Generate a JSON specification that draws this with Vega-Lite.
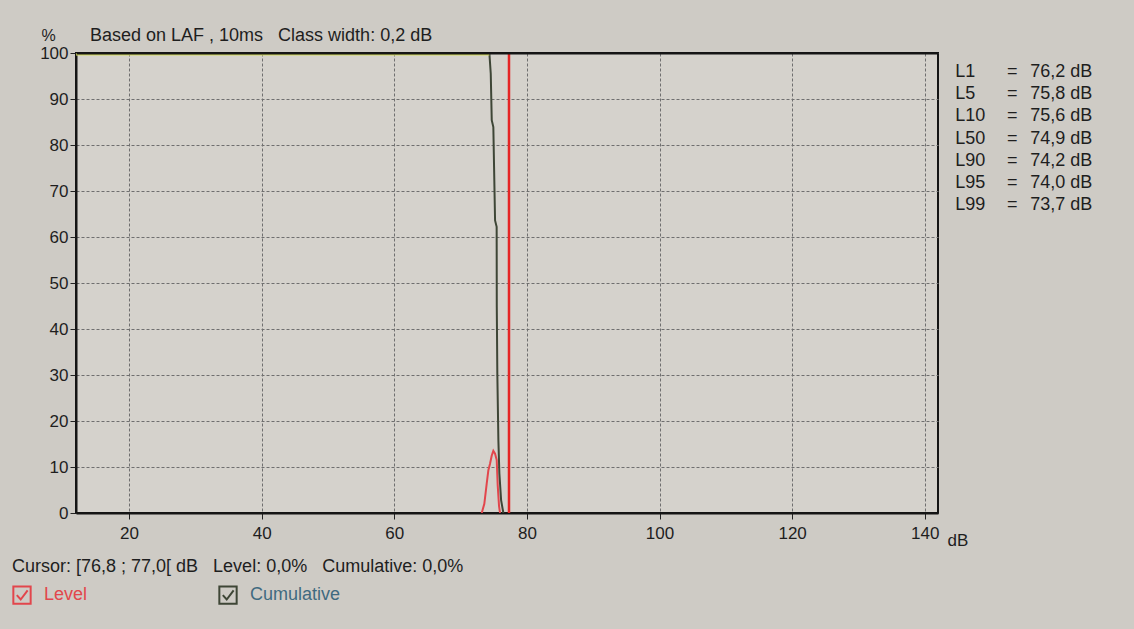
{
  "$schema": "https://vega.github.io/schema/vega-lite/v6.json",
  "width": 862,
  "height": 460,
  "autosize": {"type": "none"},
  "padding": {"left": 76, "top": 53, "right": 196, "bottom": 116},
  "background": "#cecbc5",
  "config": {
    "font": "Liberation Sans",
    "view": {"fill": "#d5d2cc", "stroke": "#151515", "strokeWidth": 2}
  },
  "title": {
    "text": "Based on LAF , 10ms\u00a0\u00a0 Class width: 0,2 dB",
    "anchor": "start",
    "frame": "group",
    "dx": 14,
    "offset": -18,
    "fontSize": 18,
    "fontWeight": "normal",
    "color": "#1e1e1e"
  },
  "datasets": {
    "distribution": [
      {"series": "Level", "dB": 73.19, "pct": 0},
      {"series": "Level", "dB": 73.58, "pct": 2.0},
      {"series": "Level", "dB": 73.94, "pct": 6.4},
      {"series": "Level", "dB": 74.19, "pct": 9.3},
      {"series": "Level", "dB": 74.44, "pct": 10.7},
      {"series": "Level", "dB": 74.70, "pct": 12.5},
      {"series": "Level", "dB": 74.94, "pct": 13.5},
      {"series": "Level", "dB": 75.20, "pct": 12.9},
      {"series": "Level", "dB": 75.45, "pct": 11.5},
      {"series": "Level", "dB": 75.60, "pct": 6.0},
      {"series": "Level", "dB": 75.80, "pct": 1.5},
      {"series": "Level", "dB": 75.95, "pct": 0},
      {"series": "Cumulative", "dB": 12, "pct": 100},
      {"series": "Cumulative", "dB": 74.34, "pct": 100},
      {"series": "Cumulative", "dB": 74.55, "pct": 95.5},
      {"series": "Cumulative", "dB": 74.70, "pct": 85.4},
      {"series": "Cumulative", "dB": 74.94, "pct": 83.9},
      {"series": "Cumulative", "dB": 75.05, "pct": 75.2},
      {"series": "Cumulative", "dB": 75.20, "pct": 63.6},
      {"series": "Cumulative", "dB": 75.44, "pct": 62.2},
      {"series": "Cumulative", "dB": 75.46, "pct": 44.8},
      {"series": "Cumulative", "dB": 75.54, "pct": 30.4},
      {"series": "Cumulative", "dB": 75.70, "pct": 15.8},
      {"series": "Cumulative", "dB": 75.85, "pct": 8.6},
      {"series": "Cumulative", "dB": 76.11, "pct": 2.8},
      {"series": "Cumulative", "dB": 76.45, "pct": 0}
    ],
    "cursor": [{"dB": 77.3}],
    "stats": [
      {"name": "L1", "value": "76,2 dB"},
      {"name": "L5", "value": "75,8 dB"},
      {"name": "L10", "value": "75,6 dB"},
      {"name": "L50", "value": "74,9 dB"},
      {"name": "L90", "value": "74,2 dB"},
      {"name": "L95", "value": "74,0 dB"},
      {"name": "L99", "value": "73,7 dB"}
    ]
  },
  "layer": [
    {
      "layer": [
        {
          "data": {"name": "distribution"},
          "mark": {"type": "line", "strokeWidth": 2, "clip": true},
          "encoding": {
            "x": {
              "field": "dB",
              "type": "quantitative",
              "scale": {"domain": [12, 142], "nice": false, "zero": false},
              "axis": {
                "orient": "bottom",
                "values": [20, 40, 60, 80, 100, 120, 140],
                "title": "dB",
                "titleX": 871,
                "titleY": 27,
                "titleAlign": "left",
                "titleBaseline": "middle",
                "titleFontSize": 17,
                "titleFontWeight": "normal",
                "titleColor": "#1e1e1e",
                "labelFontSize": 17,
                "labelColor": "#1e1e1e",
                "labelPadding": 6,
                "labelFlush": false,
                "tickSize": 6,
                "tickColor": "#222222",
                "domainColor": "#151515",
                "domainWidth": 2,
                "grid": true,
                "gridColor": "#6f6f6f",
                "gridDash": [3, 2],
                "gridWidth": 1
              }
            },
            "y": {
              "field": "pct",
              "type": "quantitative",
              "scale": {"domain": [0, 100], "nice": false},
              "axis": {
                "values": [0, 10, 20, 30, 40, 50, 60, 70, 80, 90, 100],
                "title": "%",
                "titleAngle": 0,
                "titleX": -28,
                "titleY": -18,
                "titleAlign": "center",
                "titleBaseline": "middle",
                "titleFontSize": 16,
                "titleFontWeight": "normal",
                "titleColor": "#1e1e1e",
                "labelFontSize": 17,
                "labelColor": "#1e1e1e",
                "labelPadding": 2,
                "tickSize": 6,
                "tickColor": "#222222",
                "domainColor": "#151515",
                "domainWidth": 2,
                "grid": true,
                "gridColor": "#6f6f6f",
                "gridDash": [3, 2],
                "gridWidth": 1
              }
            },
            "color": {
              "field": "series",
              "type": "nominal",
              "scale": {"domain": ["Level", "Cumulative"], "range": ["#e2464c", "#3e4636"]},
              "legend": {
                "orient": "none",
                "legendX": -64,
                "legendY": 505,
                "direction": "horizontal",
                "title": "Cursor: [76,8 ; 77,0[ dB\u00a0\u00a0 Level: 0,0%\u00a0\u00a0 Cumulative: 0,0%",
                "titleFontSize": 18,
                "titleFontWeight": "normal",
                "titleColor": "#1e1e1e",
                "titleLimit": 700,
                "titlePadding": 9,
                "labelFontSize": 18,
                "labelOffset": 12,
                "columnPadding": 127,
                "symbolType": "M-1,-1H1V1H-1Z M-0.6,0L-0.15,0.5L0.65,-0.55",
                "symbolSize": 300,
                "symbolStrokeWidth": 2,
                "encode": {
                  "symbols": {"update": {"fill": {"value": "transparent"}}},
                  "labels": {"update": {"fill": {"signal": "datum.value === 'Level' ? '#e2464c' : '#3f6a80'"}}}
                }
              }
            }
          }
        },
        {
          "data": {"name": "distribution"},
          "transform": [{"filter": "datum.series === 'Cumulative' && datum.pct >= 100"}],
          "mark": {"type": "line", "strokeWidth": 5, "color": "#d6dc60", "clip": true},
          "encoding": {
            "x": {
              "field": "dB",
              "type": "quantitative",
              "axis": {"orient": "top", "labels": false, "ticks": false, "grid": false, "title": null, "domain": true, "domainColor": "#151515", "domainWidth": 2, "zindex": 1}
            },
            "y": {"field": "pct", "type": "quantitative"}
          }
        },
        {
          "data": {"name": "cursor"},
          "mark": {"type": "rule", "color": "#e52424", "strokeWidth": 2.5},
          "encoding": {
            "x": {"field": "dB", "type": "quantitative", "axis": null}
          }
        }
      ],
      "resolve": {"axis": {"x": "independent"}}
    },
    {
      "data": {"name": "stats"},
      "layer": [
        {
          "mark": {"type": "text", "align": "left", "baseline": "middle", "fontSize": 18, "color": "#1e1e1e"},
          "encoding": {
            "x": {"datum": 144.6, "type": "quantitative", "axis": null},
            "y": {"field": "name", "type": "nominal", "sort": null, "scale": {"type": "point", "range": [19, 152], "padding": 0}, "axis": null},
            "text": {"field": "name"}
          }
        },
        {
          "mark": {"type": "text", "align": "center", "baseline": "middle", "fontSize": 18, "color": "#1e1e1e", "text": "="},
          "encoding": {
            "x": {"datum": 153.2, "type": "quantitative", "axis": null},
            "y": {"field": "name", "type": "nominal", "sort": null, "axis": null}
          }
        },
        {
          "mark": {"type": "text", "align": "left", "baseline": "middle", "fontSize": 18, "color": "#1e1e1e"},
          "encoding": {
            "x": {"datum": 155.9, "type": "quantitative", "axis": null},
            "y": {"field": "name", "type": "nominal", "sort": null, "axis": null},
            "text": {"field": "value"}
          }
        }
      ]
    }
  ],
  "resolve": {"scale": {"y": "independent"}}
}
